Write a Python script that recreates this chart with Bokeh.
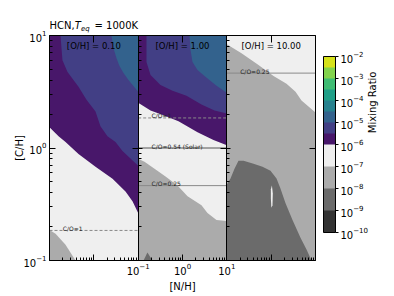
import math
from bokeh.plotting import figure
from bokeh.models import (Range1d, LogScale, LinearScale, LogAxis, LinearAxis, FixedTicker,
                          CustomJSTickFormatter, LogTickFormatter, ColorBar, LogColorMapper,
                          LinearColorMapper, ColumnDataSource)
from bokeh.core.properties import value
from bokeh.embed import file_html
from bokeh.resources import INLINE

FONT = "DejaVu Sans"

# ---------------- data ----------------
oh_labels = ["[O/H] = 0.10", "[O/H] = 1.00", "[O/H] = 10.00"]
title_main = "HCN,"
title_sym = "T"
title_sub = "eq"
title_rest = "= 1000K"
cbar_label = "Mixing Ratio"

# band representative mixing ratios
v_white = 10 ** -6.5
v_grey = 10 ** -7.5
v_dark = 10 ** -8.5
v_purple = 10 ** -5.75
v_indigo = 10 ** -5.25
v_teal = 10 ** -4.75

panel_n = [0.1, 10, 10, 0.1]
panel_c = [0.1, 0.1, 10, 10]

# panel 1 ([O/H]=0.1)
p1_grey_n = [0.1, 0.137, 0.230, 0.386, 0.1]
p1_grey_c = [0.187, 0.173, 0.138, 0.1, 0.1]
p1_purple_n = [0.1, 0.160, 0.230, 0.451, 1.09, 2.64, 5.18, 7.45, 10, 10, 0.1]
p1_purple_c = [1.53, 1.27, 1.13, 0.886, 0.681, 0.534, 0.411, 0.336, 0.264, 10, 10]
p1_indigo_n = [0.177, 0.196, 0.255, 0.451, 0.683, 1.09, 1.41, 2.03, 3.08, 4.43, 10, 10]
p1_indigo_c = [10, 6.03, 4.74, 3.50, 2.69, 2.11, 1.56, 1.27, 1.13, 0.941, 0.695, 10]
p1_teal_n = [2.50, 2.78, 3.25, 3.79, 4.67, 6.05, 10, 10]
p1_teal_c = [10, 7.69, 6.28, 5.35, 4.64, 4.03, 3.16, 10]

# panel 2 ([O/H]=1)
p2_grey_n = [0.1, 0.139, 0.234, 0.414, 0.771, 1.30, 2.68, 3.66, 5.85, 10, 10, 0.1]
p2_grey_c = [0.801, 0.754, 0.654, 0.557, 0.464, 0.372, 0.310, 0.264, 0.229, 0.224, 0.1, 0.1]
p2_dark_n = [0.132, 0.162, 0.210]
p2_dark_c = [0.1, 0.1175, 0.1]
p2_purple_n = [0.1, 0.190, 0.373, 0.812, 2.18, 5.00, 10, 10, 0.1]
p2_purple_c = [2.53, 2.15, 1.95, 1.73, 1.38, 1.18, 1.06, 10, 10]
p2_indigo_n = [0.154, 0.154, 0.190, 0.319, 0.595, 1.23, 2.68, 5.27, 10, 10]
p2_indigo_c = [10, 5.80, 4.46, 3.64, 3.23, 2.92, 2.43, 2.15, 2.03, 10]
p2_teal_n = [1.44, 1.52, 1.68, 2.18, 3.14, 5.85, 10, 10]
p2_teal_c = [10, 7.39, 5.80, 4.93, 4.37, 3.57, 3.10, 10]

# panel 3 ([O/H]=10)
p3_white_n = [0.1, 0.214, 0.518, 1.13, 2.22, 3.54, 4.83, 10, 10, 0.1]
p3_white_c = [8.34, 6.95, 5.46, 4.37, 3.72, 3.16, 2.64, 2.07, 10, 10]
p3_dark_n = [0.1, 0.1, 0.121, 0.149, 0.183, 0.238, 0.400, 0.637, 0.966, 1.32, 1.62, 2.11, 3.03, 4.59, 6.27, 8.13]
p3_dark_c = [0.1, 0.474, 0.535, 0.654, 0.769, 0.769, 0.724, 0.681, 0.629, 0.535, 0.437, 0.323, 0.229, 0.159, 0.125, 0.1]
p3_hole_n = [0.985, 1.04, 1.09, 1.07, 1.01, 0.985]
p3_hole_c = [0.430, 0.465, 0.395, 0.310, 0.294, 0.357]

# C/O reference lines
co_panel = [0, 1, 1, 1, 2]
co_ch = [0.185, 1.85, 1.0, 0.463, 4.63]
co_text = ["C/O=1", "C/O=1", "C/O=0.54 (Solar)", "C/O=0.25", "C/O=0.25"]

cbar_ticks = [1e-10, 1e-9, 1e-8, 1e-7, 1e-6, 1e-5, 1e-4, 1e-3, 1e-2]

# ---------------- colours ----------------
viridis_bands = ["#48176a", "#423f85", "#33628d", "#26818e", "#1f9f88", "#3fbc73", "#82d34c", "#d6e21b"]
grey_bands = ["#333333", "#6b6b6b", "#ababab", "#efefef"]
palette = [c for g in grey_bands for c in (g, g)] + viridis_bands
mapper = LogColorMapper(palette=palette, low=1e-10, high=1e-2)

# ---------------- figure ----------------
FL, FT, FW, FH = 49, 35, 266, 228
W, H = 390, 294
p = figure(width=W, height=H, x_axis_type="log", y_axis_type="log",
           x_range=Range1d(1e-3, 1e3), y_range=Range1d(0.1, 10),
           output_backend="svg", toolbar_location=None,
           min_border_left=FL, min_border_right=W - FL - FW, min_border_top=FT,
           min_border_bottom=H - FT - FH)
p.extra_x_ranges = {"p1": Range1d(0.1, 1e5), "p3": Range1d(1e-5, 10), "ovx": Range1d(0, 1)}
p.extra_y_ranges = {"ovy": Range1d(0, 1)}
p.extra_x_scales = {"p1": LogScale(), "p3": LogScale(), "ovx": LinearScale()}
p.extra_y_scales = {"ovy": LinearScale()}
p.xgrid.visible = False
p.ygrid.visible = False
p.outline_line_color = "black"
p.background_fill_color = "white"
p.border_fill_color = "white"

range_names = ["p1", "default", "p3"]

panels = [
    [(panel_n, panel_c, v_white), (p1_grey_n, p1_grey_c, v_grey), (p1_purple_n, p1_purple_c, v_purple),
     (p1_indigo_n, p1_indigo_c, v_indigo), (p1_teal_n, p1_teal_c, v_teal)],
    [(panel_n, panel_c, v_white), (p2_grey_n, p2_grey_c, v_grey), (p2_dark_n, p2_dark_c, v_dark),
     (p2_purple_n, p2_purple_c, v_purple), (p2_indigo_n, p2_indigo_c, v_indigo), (p2_teal_n, p2_teal_c, v_teal)],
    [(panel_n, panel_c, v_grey), (p3_white_n, p3_white_c, v_white), (p3_dark_n, p3_dark_c, v_dark),
     (p3_hole_n, p3_hole_c, v_white)],
]

for i, regions in enumerate(panels):
    src = ColumnDataSource(dict(xs=[r[0] for r in regions], ys=[r[1] for r in regions],
                                val=[r[2] for r in regions]))
    p.patches(xs="xs", ys="ys", source=src, fill_color={"field": "val", "transform": mapper},
              line_color=None, x_range_name=range_names[i])

for k in range(len(co_ch)):
    rn = range_names[co_panel[k]]
    dashed = co_text[k] == "C/O=1"
    solar = "Solar" in co_text[k]
    p.segment(x0=[0.1], x1=[10], y0=[co_ch[k]], y1=[co_ch[k]], x_range_name=rn,
              line_color="#555555" if solar else "#8a8a8a", line_width=1,
              line_dash="3 2" if dashed else "solid")
    p.text(x=[0.2], y=[co_ch[k]], text=[co_text[k]], x_range_name=rn,
           text_font=value(FONT), text_font_size="6px", text_color="#222222",
           text_baseline="bottom", y_offset=1.5)

for i in range(3):
    p.text(x=[1.0], y=[10], text=[oh_labels[i]], x_range_name=range_names[i],
           text_font=value(FONT), text_font_size="8.5px", text_color="black",
           text_align="center", text_baseline="middle", y_offset=10.5)

blank = CustomJSTickFormatter(code="return ''")
minors_x = [k * 10.0 ** e for e in range(-3, 3) for k in range(2, 10)]
minors_y = [k * 10.0 ** e for e in (-1, 0) for k in range(2, 10)]


def py_to_y(py):
    return 10 ** (1 - 2 * (py - FT) / FH)


bx = p.below[0]
bx.ticker = FixedTicker(ticks=[1e-2, 1e-1, 1, 10, 1e2], minor_ticks=minors_x)
bx.formatter = LogTickFormatter()
bx.major_label_overrides = {0.01: "", 100: ""}
bx.major_tick_in = 6
bx.major_tick_out = 0
bx.minor_tick_in = 3
bx.minor_tick_out = 0
bx.major_label_standoff = 2
bx.major_label_text_font = FONT
bx.major_label_text_font_size = "10px"
bx.major_label_text_color = "black"
bx.axis_line_color = "black"
bx.axis_label = "[N/H]"
bx.axis_label_text_font = FONT
bx.axis_label_text_font_size = "10px"
bx.axis_label_text_font_style = "normal"
bx.axis_label_text_color = "black"
bx.axis_label_standoff = 3

ly = p.left[0]
ly.ticker = FixedTicker(ticks=[0.1, 1, 10], minor_ticks=minors_y)
ly.formatter = LogTickFormatter()
ly.major_tick_in = 6
ly.major_tick_out = 0
ly.minor_tick_in = 3
ly.minor_tick_out = 0
ly.major_label_standoff = 3
ly.major_label_text_font = FONT
ly.major_label_text_font_size = "10px"
ly.major_label_text_color = "black"
ly.axis_line_color = "black"
ly.axis_label = "[C/H]"
ly.axis_label_text_font = FONT
ly.axis_label_text_font_size = "10px"
ly.axis_label_text_font_style = "normal"
ly.axis_label_text_color = "black"
ly.axis_label_standoff = -5

ta = LogAxis(ticker=FixedTicker(ticks=[1e-2, 1, 1e2], minor_ticks=[]), formatter=blank,
             major_tick_in=7, major_tick_out=0, minor_tick_in=0, minor_tick_out=0,
             axis_line_color="black", major_label_text_font_size="1px")
p.add_layout(ta, "above")

# right edge: inward tick at 10^0 (minor) and the colour-bar caption as the single major label
cap_fmt = CustomJSTickFormatter(code="return %r" % cbar_label)
ra = LogAxis(ticker=FixedTicker(ticks=[py_to_y(134)], minor_ticks=[1]), formatter=cap_fmt,
             major_tick_in=0, major_tick_out=0, minor_tick_in=6, minor_tick_out=0,
             axis_line_color="black", major_label_standoff=57, major_label_orientation=math.pi / 2,
             major_label_text_font=FONT, major_label_text_font_size="10px",
             major_label_text_color="black")
p.add_layout(ra, "right")

for loc in (0.1, 10):
    da = LogAxis(fixed_location=loc, ticker=FixedTicker(ticks=[1], minor_ticks=minors_y), formatter=blank,
                 major_tick_in=4, major_tick_out=6, minor_tick_in=3, minor_tick_out=0,
                 axis_line_color="black", major_label_text_font_size="1px")
    p.add_layout(da, "left")

ox = LinearAxis(x_range_name="ovx", fixed_location=0.1,
                ticker=FixedTicker(ticks=[0, 0.2, 0.4, 0.6, 0.8, 1.0], minor_ticks=[]), formatter=blank,
                major_tick_in=0, major_tick_out=3, minor_tick_in=0, minor_tick_out=0,
                axis_line_color=None, major_label_text_font_size="1px")
p.add_layout(ox, "below")
oy = LinearAxis(y_range_name="ovy", fixed_location=1e-3,
                ticker=FixedTicker(ticks=[0, 0.2, 0.4, 0.6, 0.8, 1.0], minor_ticks=[]), formatter=blank,
                major_tick_in=0, major_tick_out=3, minor_tick_in=0, minor_tick_out=0,
                axis_line_color=None, major_label_text_font_size="1px")
p.add_layout(oy, "left")

cb = ColorBar(color_mapper=mapper, ticker=FixedTicker(ticks=cbar_ticks, minor_ticks=[]),
              formatter=LogTickFormatter(), width=12, height=176, location=(274, 28), padding=0,
              major_tick_out=3, major_tick_in=0, minor_tick_out=0, minor_tick_in=0,
              bar_line_color="black", major_tick_line_color="black", label_standoff=2,
              major_label_text_font=FONT, major_label_text_font_size="10px",
              major_label_text_color="black",
              background_fill_color=None, border_line_color=None)
p.add_layout(cb)

# title pieces: captions of invisible horizontal colour bars (text is not clipped to the frame)
blank_mapper = LinearColorMapper(palette=["#ffffff"], low=0, high=1)
title_parts = [(title_main, 0.0, 229, "10px", "normal"),
               (title_sym, 25.3, 229, "10px", "italic"),
               (title_sub, 31.4, 227, "7px", "italic"),
               (title_rest, 45.0, 229, "10px", "normal")]
for text, tx, ty, size, style in title_parts:
    tcb = ColorBar(color_mapper=blank_mapper, orientation="horizontal",
                   ticker=FixedTicker(ticks=[], minor_ticks=[]),
                   formatter=blank, width=1, height=1, padding=0, location=(tx, ty),
                   title=text, title_text_font=FONT, title_text_font_size=size,
                   title_text_font_style=style, title_text_color="black", title_standoff=0,
                   scale_alpha=0, bar_line_color=None, major_tick_line_color=None,
                   minor_tick_line_color=None, major_label_text_font_size="1px",
                   background_fill_color=None, border_line_color=None)
    p.add_layout(tcb)

open("out.html", "w").write(file_html(p, INLINE))
